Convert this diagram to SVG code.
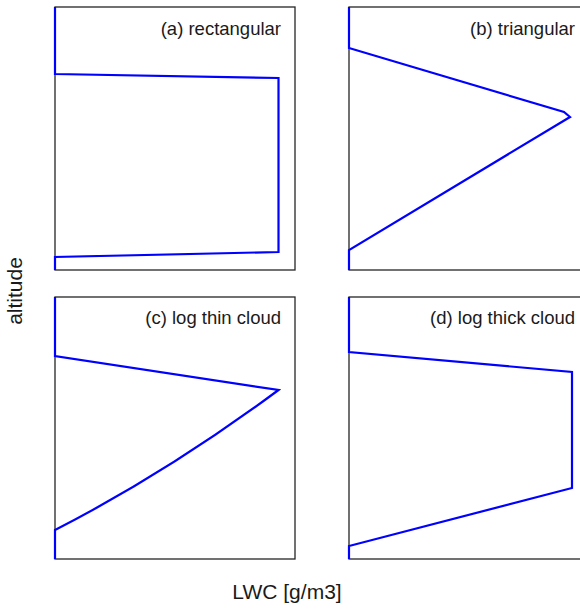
<svg xmlns="http://www.w3.org/2000/svg" width="580" height="610" viewBox="0 0 580 610">
<style>
.frame{fill:none;stroke:#262626;stroke-width:1.3}
.prof{fill:none;stroke:#0000ff;stroke-width:2.2;stroke-linejoin:miter}
.lbl{font-family:"Liberation Sans",Arial,sans-serif;font-size:18.5px;fill:#1a1a1a;text-anchor:end}
.ax{font-family:"Liberation Sans",Arial,sans-serif;font-size:21px;fill:#1a1a1a;text-anchor:middle}
</style>
<rect width="580" height="610" fill="#fff"/>
<g id="panel-a">
<rect class="frame" x="55" y="7" width="240" height="263"/>
<text class="lbl" x="281" y="35">(a) rectangular</text>
</g>
<g id="panel-b">
<rect class="frame" x="349" y="7" width="240" height="263"/>
<text class="lbl" x="575" y="35">(b) triangular</text>
</g>
<g id="panel-c">
<rect class="frame" x="55" y="297" width="240" height="262"/>
<text class="lbl" x="281" y="324">(c) log thin cloud</text>
</g>
<g id="panel-d">
<rect class="frame" x="349" y="297" width="240" height="262"/>
<text class="lbl" x="575" y="324">(d) log thick cloud</text>
</g>
<g id="profiles">
<polyline class="prof" points="55,7 55,74 278.5,78 278.5,252 55,257 55,270"/>
<polyline class="prof" points="349,7 349,48 564,112 570,117 349,250 349,270"/>
<path class="prof" d="M55,297 L55,356 L278.5,390 Q166.5,473 55,530 L55,559"/>
<polyline class="prof" points="349,297 349,352 572,372 572,488 349,546 349,559"/>
</g>
<text class="ax" x="287" y="599">LWC [g/m3]</text>
<text class="ax" x="0" y="0" transform="translate(22,291) rotate(-90)">altitude</text>
</svg>
